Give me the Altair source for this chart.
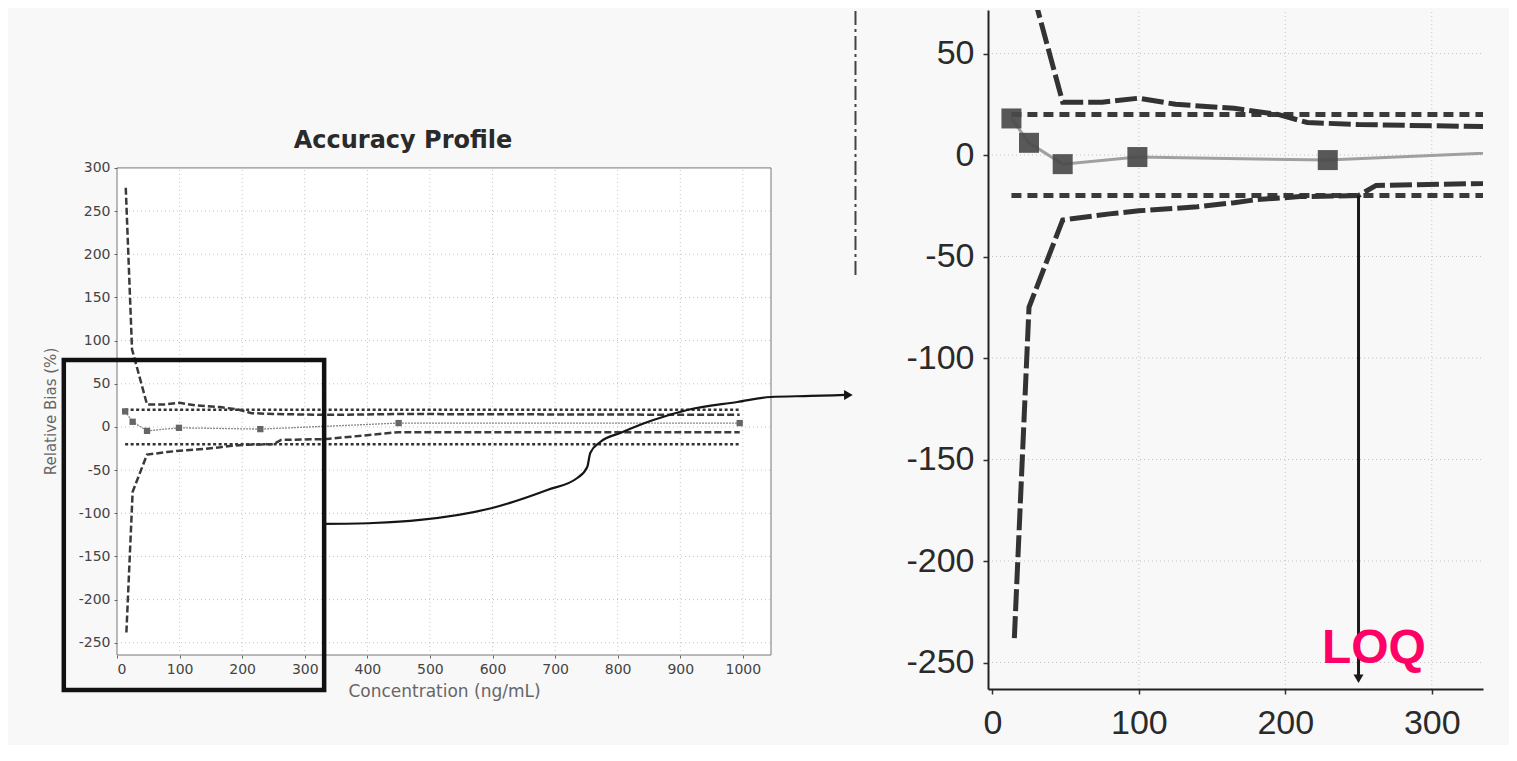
import altair as alt
import pandas as pd

# ------------------------------------------------------------------ data
# measured mean relative bias (%) at each concentration level (ng/mL)
conc = [13, 25, 48, 99, 229, 450, 995]
mean_bias = [18, 6, -4.5, -1, -2.5, 4.5, 4.5]

# upper / lower beta-expectation tolerance limits (%)
upper_x = [14, 24, 48, 75, 100, 125, 165, 195, 215, 250, 335, 450, 995]
upper_y = [277, 90, 26, 26, 28, 25, 23, 20, 16, 15, 14, 15, 14]
lower_x = [15, 25, 48, 80, 100, 140, 165, 180, 210, 250, 262, 335, 450, 995]
lower_y = [-238, -75, -32, -29, -27.5, -25.5, -23.5, -22, -20.5, -20, -15, -14, -6, -6]

# acceptance limits (%)
accept_x = [13, 995]
accept_upper = [20, 20]
accept_lower = [-20, -20]

# limit of quantification
LOQ = 250
LOQ_from = -20
LOQ_head = -258

# tick values
left_x_ticks = [0, 100, 200, 300, 400, 500, 600, 700, 800, 900, 1000]
left_y_ticks = [-250, -200, -150, -100, -50, 0, 50, 100, 150, 200, 250, 300]
right_x_ticks = [0, 100, 200, 300]
right_y_ticks = [-250, -200, -150, -100, -50, 0, 50]

# axis extents
left_x_domain = [0, 1045]
left_y_domain = [-264.1, 482.9]
left_frame_top = 300
right_x_domain = [-3, 335]
right_y_domain = [-263.05, 71.43]

# annotations (left-panel data units)
zoom_box_x = [-85, 331]
zoom_box_y = [-304.5, 77.6]
curve_x = [329.3, 409.3, 484.4, 599.5, 687.5, 735.4, 751.4, 756.2, 772.2,
           804.2, 856.9, 911.3, 991.2, 1044.0, 1107.9, 1163.9]
curve_y = [-112.3, -111.2, -107.7, -93.8, -73.0, -59.1, -46.3, -30.1, -17.4,
           -6.9, 8.1, 19.7, 28.9, 34.7, 35.9, 37.1]
curve_head = (1168.7, 37.1)
divider_x = 1180
divider_y = [176, 482.9]
title_text = "Accuracy Profile"
title_pos = (457, 323)
loq_text = "LOQ"
loq_text_pos = (225, -250)

# ------------------------------------------------------------------ tables
one = pd.DataFrame({"k": [0]})
mean_df = pd.DataFrame({"x": conc, "y": mean_bias})
tol_df = pd.concat([
    pd.DataFrame({"x": upper_x, "y": upper_y, "s": "upper"}),
    pd.DataFrame({"x": lower_x, "y": lower_y, "s": "lower"}),
])
acc_df = pd.concat([
    pd.DataFrame({"x": accept_x, "y": accept_upper, "s": "upper"}),
    pd.DataFrame({"x": accept_x, "y": accept_lower, "s": "lower"}),
])
curve_df = pd.DataFrame({"x": curve_x, "y": curve_y, "i": list(range(len(curve_x)))})

BG = "#f8f8f8"
GRID = "#c4c4c4"
PLAIN = "'' + datum.value"   # plain integer labels with an ASCII hyphen

# ------------------------------------------------------------------ scales
# one drawing area; each panel occupies its own pixel range
PLOT_W, PLOT_H = 1366, 679
LXS = alt.Scale(domain=left_x_domain, range=[0, 654], nice=False, zero=False)
LYS = alt.Scale(domain=left_y_domain, range=[645, 0], nice=False, zero=False)
RXS = alt.Scale(domain=right_x_domain, range=[871, 1366], nice=False, zero=False)
RYS = alt.Scale(domain=right_y_domain, range=[679, 0], nice=False, zero=False)


def LX(f, **kw):
    return alt.X(f, scale=LXS, axis=kw.pop("axis", None), **kw)


def LY(f, **kw):
    return alt.Y(f, scale=LYS, axis=kw.pop("axis", None), **kw)


def RX(f, **kw):
    return alt.X(f, scale=RXS, axis=kw.pop("axis", None), **kw)


def RY(f, **kw):
    return alt.Y(f, scale=RYS, axis=kw.pop("axis", None), **kw)


def LXd(v):
    return alt.X(datum=v, scale=LXS, axis=None)


def LYd(v):
    return alt.Y(datum=v, scale=LYS, axis=None)


def RXd(v):
    return alt.X(datum=v, scale=RXS, axis=None)


def RYd(v):
    return alt.Y(datum=v, scale=RYS, axis=None)


# ------------------------------------------------------------------ left panel
frame_df = pd.DataFrame({"x0": [left_x_domain[0]], "x1": [left_x_domain[1]],
                         "y0": [left_y_domain[0]], "y1": [left_frame_top]})
left_x_axis = alt.Axis(
    orient="bottom", offset=-34, values=left_x_ticks, labelExpr=PLAIN, grid=False, domain=False,
    tickSize=3, tickColor="#666", labelFont="DejaVu Sans", labelFontSize=14,
    labelColor="#444", labelPadding=4, zindex=1,
    title="Concentration (ng/mL)", titleFont="DejaVu Sans", titleFontSize=17,
    titleFontWeight="normal", titleColor="#666", titlePadding=7)
left_y_axis = alt.Axis(
    orient="left", values=left_y_ticks, labelExpr=PLAIN, grid=False, domain=False,
    tickSize=3, tickColor="#666", labelFont="DejaVu Sans", labelFontSize=14,
    labelColor="#444", labelPadding=4, zindex=1,
    title="Relative Bias (%)", titleFont="DejaVu Sans", titleFontSize=15,
    titleFontWeight="normal", titleColor="#666", titleX=-67, titleY=401,
    titleAngle=270, titleAlign="center", titleBaseline="middle")
frame = alt.Chart(frame_df).mark_rect(fill="white", stroke="#777", strokeWidth=1).encode(
    x=LX("x0:Q", axis=left_x_axis), x2="x1:Q",
    y=LY("y0:Q", axis=left_y_axis), y2="y1:Q")

l_vgrid = alt.Chart(pd.DataFrame({"v": left_x_ticks[1:]})).mark_rule(
    color=GRID, strokeDash=[1, 3], strokeWidth=1).encode(
    x=LX("v:Q"), y=LYd(left_y_domain[0]), y2=alt.Y2(datum=left_frame_top))
l_hgrid = alt.Chart(pd.DataFrame({"v": [t for t in left_y_ticks if t < left_frame_top]})).mark_rule(
    color=GRID, strokeDash=[1, 3], strokeWidth=1).encode(
    y=LY("v:Q"), x=LXd(left_x_domain[0]), x2=alt.X2(datum=left_x_domain[1]))

l_acc = alt.Chart(acc_df).mark_line(color="#333", strokeWidth=2.5, strokeDash=[3, 2.5]).encode(
    x=LX("x:Q"), y=LY("y:Q"), detail="s:N")
l_tol = alt.Chart(tol_df).mark_line(color="#3a3a3a", strokeWidth=2.5, strokeDash=[7, 3]).encode(
    x=LX("x:Q"), y=LY("y:Q"), detail="s:N")
l_mean = alt.Chart(mean_df).mark_line(color="#888", strokeWidth=1.3, strokeDash=[2, 1]).encode(
    x=LX("x:Q"), y=LY("y:Q"))
l_pts = alt.Chart(mean_df).mark_point(shape="square", filled=True, size=40, color="#666", opacity=1).encode(
    x=LX("x:Q"), y=LY("y:Q"))

l_title = alt.Chart(one).mark_text(text=title_text, font="DejaVu Sans", fontSize=24, fontWeight="bold",
                                   color="#2a2a2a", align="center", baseline="alphabetic").encode(
    x=LXd(title_pos[0]), y=LYd(title_pos[1]))

box_df = pd.DataFrame({"x0": [zoom_box_x[0]], "x1": [zoom_box_x[1]],
                       "y0": [zoom_box_y[0]], "y1": [zoom_box_y[1]]})
l_box = alt.Chart(box_df).mark_rect(filled=False, color="#111", strokeWidth=4.5).encode(
    x=LX("x0:Q"), x2="x1:Q", y=LY("y0:Q"), y2="y1:Q")
l_curve = alt.Chart(curve_df).mark_line(color="#151515", strokeWidth=2.2, interpolate="monotone").encode(
    x=LX("x:Q"), y=LY("y:Q"), order="i:O")
l_head = alt.Chart(one).mark_point(shape="triangle-right", filled=True, size=100, color="#151515", opacity=1).encode(
    x=LXd(curve_head[0]), y=LYd(curve_head[1]))
l_div = alt.Chart(one).mark_rule(color="#444", strokeWidth=2, strokeDash=[14, 4, 3, 4]).encode(
    x=LXd(divider_x), y=LYd(divider_y[0]), y2=alt.Y2(datum=divider_y[1]))

# ------------------------------------------------------------------ right panel
axis_common = dict(grid=False, domain=True, domainColor="#222", domainWidth=2,
                   tickSize=5, tickColor="#333", tickWidth=1.5, zindex=1,
                   labelFont="Liberation Sans", labelFontSize=34, labelColor="#2a2a2a",
                   labelExpr=PLAIN, title=None)

r_vgrid = alt.Chart(pd.DataFrame({"v": right_x_ticks[1:]})).mark_rule(
    color=GRID, strokeDash=[1, 3], strokeWidth=1).encode(
    x=RX("v:Q", axis=alt.Axis(orient="bottom", values=right_x_ticks, labelPadding=12, **axis_common)),
    y=RYd(right_y_domain[0]), y2=alt.Y2(datum=right_y_domain[1]))
r_hgrid = alt.Chart(pd.DataFrame({"v": right_y_ticks})).mark_rule(
    color=GRID, strokeDash=[1, 3], strokeWidth=1).encode(
    y=RY("v:Q", axis=alt.Axis(orient="left", offset=-871, values=right_y_ticks, labelPadding=9, **axis_common)),
    x=RXd(right_x_domain[0]), x2=alt.X2(datum=right_x_domain[1]))

r_acc = alt.Chart(acc_df).mark_line(color="#3a3a3a", strokeWidth=5, strokeDash=[10, 6], clip=True).encode(
    x=RX("x:Q"), y=RY("y:Q"), detail="s:N")
r_tol = alt.Chart(tol_df).mark_line(color="#333", strokeWidth=5, strokeDash=[22, 5], clip=True).encode(
    x=RX("x:Q"), y=RY("y:Q"), detail="s:N")
r_mean = alt.Chart(mean_df).mark_line(color="#a0a0a0", strokeWidth=3, clip=True).encode(
    x=RX("x:Q"), y=RY("y:Q"))
r_pts = alt.Chart(mean_df).mark_point(shape="square", filled=True, size=400, color="#4a4a4a",
                                      opacity=0.92, clip=True).encode(
    x=RX("x:Q"), y=RY("y:Q"))

r_loq = alt.Chart(one).mark_rule(color="#1a1a1a", strokeWidth=3).encode(
    x=RXd(LOQ), y=RYd(LOQ_from), y2=alt.Y2(datum=LOQ_head))
r_loq_head = alt.Chart(one).mark_point(shape="triangle-down", filled=True, size=100,
                                       color="#1a1a1a", opacity=1).encode(
    x=RXd(LOQ), y=RYd(LOQ_head))
r_loq_text = alt.Chart(one).mark_text(text=loq_text, font="Liberation Sans", fontSize=48,
                                      fontWeight="bold", color="#ff0066", align="left",
                                      baseline="alphabetic").encode(
    x=RXd(loq_text_pos[0]), y=RYd(loq_text_pos[1]))

chart = alt.layer(
    frame, l_vgrid, l_hgrid, l_acc, l_tol, l_mean, l_pts, l_title,
    l_box, l_curve, l_head, l_div,
    r_vgrid, r_hgrid, r_acc, r_tol, r_mean, r_pts, r_loq, r_loq_head, r_loq_text,
).resolve_scale(x="independent", y="independent").properties(
    width=PLOT_W, height=PLOT_H,
    autosize=alt.AutoSizeParams(type="none"),
    padding={"left": 109, "top": 2, "right": 26, "bottom": 56},
    background=BG,
).configure_view(stroke="transparent")

chart.save("out.html", embed_options={"renderer": "svg", "actions": False})
